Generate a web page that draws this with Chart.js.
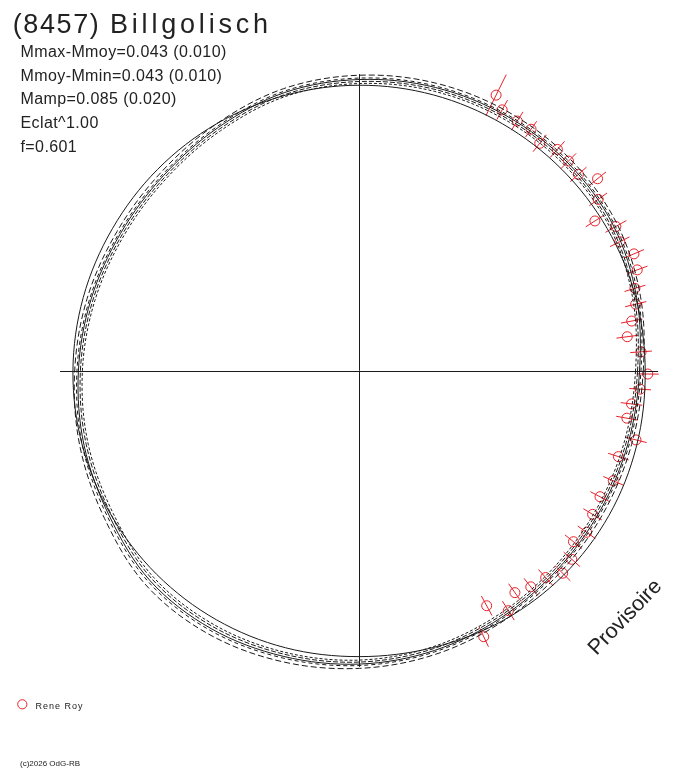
<!DOCTYPE html>
<html lang="fr">
<head>
<meta charset="UTF-8">
<title>(8457) Billgolisch</title>
<script src="https://cdn.jsdelivr.net/npm/chart.js"></script>
<style>
  html, body { margin: 0; padding: 0; background: #fff; }
  #wrap { position: relative; width: 688px; height: 768px; }
</style>
</head>
<body>
<div id="wrap"><canvas id="lc"></canvas></div>
<script>
// courbe en polaire : angle = phase (degres), rayon = 100 pour le cercle moyen
const curveAngles = [0, 15, 30, 45, 60, 75, 90, 105, 120, 135, 150, 165,
                     180, 195, 210, 225, 240, 255, 270, 285, 300, 315, 330, 345];
const circleR     = [99.9, 100.0, 100.0, 100.0, 100.0, 100.1, 100.1, 100.0, 100.0, 99.9, 99.8, 100.0,
                     100.2, 100.3, 100.3, 100.3, 100.2, 100.0, 99.7, 99.9, 100.5, 100.8, 100.7, 100.3];
const fitR        = [97.9, 100.3, 102.4, 103.1, 103.1, 102.8, 102.1, 101.0, 98.6, 96.9, 96.5, 97.2,
                     98.3, 99.7, 101.0, 103.5, 103.8, 103.1, 102.3, 101.0, 99.3, 97.9, 97.2, 97.2];
const dashOuterR  = [99.2, 101.7, 103.8, 104.6, 104.6, 104.3, 103.6, 102.4, 100.0, 98.3, 97.9, 98.6,
                     99.6, 101.2, 102.9, 105.6, 105.9, 105.0, 103.8, 102.4, 100.7, 99.3, 98.6, 98.5];
const dashMidR    = [98.4, 100.9, 102.9, 103.7, 103.6, 103.3, 102.6, 101.5, 99.1, 97.4, 97.0, 97.7,
                     98.8, 100.3, 101.7, 104.2, 104.5, 103.7, 102.8, 101.5, 99.8, 98.4, 97.7, 97.7];
const dashLowR    = [97.2, 99.5, 101.6, 102.4, 102.4, 102.1, 101.4, 100.3, 97.9, 96.2, 95.8, 96.5,
                     97.6, 98.9, 100.2, 102.6, 102.9, 102.3, 101.6, 100.3, 98.6, 97.2, 96.5, 96.5];
const dashInnerR  = [96.5, 98.9, 101.0, 101.7, 101.7, 101.4, 100.7, 99.6, 97.2, 95.5, 95.1, 95.8,
                     96.9, 98.2, 99.4, 101.8, 102.1, 101.6, 100.9, 99.6, 97.9, 96.5, 95.8, 95.8];

// mesures Rene Roy
const obsPhase = [63.7, 61.4, 57.8, 54.7, 51.7, 48.3, 45.2, 42.0, 39.0, 35.8, 32.6, 29.5, 26.5,
                  23.2, 20.1, 16.8, 13.7, 10.5, 7.4, 4.0, -0.5, -3.6, -6.8, -9.9, -13.9, -18.2,
                  -23.3, -27.5, -31.5, -35.3, -38.5, -41.5, -44.8, -47.9, -51.5, -54.9, -58.1, -61.5, -64.9];
const obsR     = [107.8, 104.2, 103.5, 103.8, 101.7, 104.0, 103.7, 103.0, 107.1, 102.9, 97.7, 103.0, 101.7,
                  104.4, 103.4, 100.6, 99.4, 96.8, 94.4, 98.7, 100.8, 98.3, 95.8, 94.9, 99.6, 95.3,
                  96.6, 94.8, 95.6, 97.3, 95.6, 99.1, 100.1, 97.1, 96.2, 94.5, 98.5, 93.2, 102.4];
const obsErr   = [8.0, 3.9, 3.8, 3.4, 3.8, 3.8, 3.8, 3.8, 3.8, 3.8, 3.8, 4.2, 3.8,
                  3.8, 3.8, 3.8, 3.8, 3.8, 3.8, 3.8, 3.8, 3.8, 3.8, 3.8, 3.8, 3.8,
                  3.8, 3.8, 3.8, 3.8, 3.8, 3.8, 3.8, 3.8, 3.8, 3.8, 3.9, 3.9, 3.9];

const axisH = [-104.7, 104.4];
const axisV = [-103.3, 104.0];

const ink = '#1a1a1a';
const red = 'rgb(232,32,40)';

function polar(r, deg) {
  const a = deg * Math.PI / 180;
  return { x: r * Math.cos(a), y: r * Math.sin(a) };
}

// boucle fermee : on ajoute un point avant et deux apres pour que la spline se raccorde
function loop(radii) {
  const n = radii.length;
  const idx = [n - 1].concat(radii.map((_, i) => i), [0, 1]);
  return idx.map(i => polar(radii[i], curveAngles[i]));
}

function curve(radii, dash) {
  const n = radii.length;
  return {
    data: loop(radii),
    showLine: true,
    borderColor: ink,
    borderWidth: 1,
    borderDash: dash,
    pointRadius: 0,
    tension: 0.34,
    segment: {
      borderColor: ctx => (ctx.p0DataIndex === 0 || ctx.p0DataIndex === n + 1) ? 'rgba(0,0,0,0)' : undefined
    }
  };
}

const errBars = [];
obsPhase.forEach((p, i) => {
  errBars.push(polar(obsR[i] - obsErr[i], p), polar(obsR[i] + obsErr[i], p), { x: null, y: null });
});
const obsPts = obsPhase.map((p, i) => polar(obsR[i], p));

// textes
const labels = {
  id: 'labels',
  afterDraw(chart) {
    const c = chart.ctx;
    c.save();
    c.fillStyle = '#222';
    c.textBaseline = 'alphabetic';
    c.textAlign = 'left';
    const font = 'Liberation Sans, Arial, sans-serif';

    c.font = '27px ' + font;
    c.letterSpacing = '1.6px';
    c.fillText('(8457)', 12.7, 32.7);
    c.letterSpacing = '3.8px';
    c.fillText('Billgolisch', 110, 32.7);

    c.font = '16px ' + font;
    c.letterSpacing = '0.4px';
    const info = ['Mmax-Mmoy=0.043 (0.010)', 'Mmoy-Mmin=0.043 (0.010)', 'Mamp=0.085 (0.020)', 'Eclat^1.00', 'f=0.601'];
    info.forEach((t, i) => c.fillText(t, 20.5, 56.8 + i * 23.7));

    c.font = '9px ' + font;
    c.letterSpacing = '1px';
    c.fillText('Rene Roy', 35.5, 709);

    c.font = '8px ' + font;
    c.letterSpacing = '0px';
    c.fillText('(c)2026 OdG-RB', 20, 765.5);

    c.strokeStyle = red;
    c.lineWidth = 1;
    c.beginPath();
    c.arc(22.3, 704.3, 4.6, 0, Math.PI * 2);
    c.stroke();

    c.translate(596.5, 656);
    c.rotate(-46 * Math.PI / 180);
    c.font = '21.5px ' + font;
    c.fillText('Provisoire', 0, 0);
    c.restore();
  }
};

new Chart(document.getElementById('lc'), {
  type: 'scatter',
  data: {
    datasets: [
      { data: [{ x: axisH[0], y: 0 }, { x: axisH[1], y: 0 }], showLine: true, borderColor: ink, borderWidth: 1, pointRadius: 0 },
      { data: [{ x: 0, y: axisV[0] }, { x: 0, y: axisV[1] }], showLine: true, borderColor: ink, borderWidth: 1, pointRadius: 0 },
      curve(circleR, []),
      curve(fitR, []),
      curve(dashOuterR, [6, 3]),
      curve(dashMidR, [4, 3]),
      curve(dashLowR, [5, 2]),
      curve(dashInnerR, [3, 2]),
      { data: errBars, showLine: true, borderColor: red, borderWidth: 1, pointRadius: 0, spanGaps: false },
      { data: obsPts, pointStyle: 'circle', pointRadius: 5, borderColor: red, borderWidth: 1, backgroundColor: 'rgba(0,0,0,0)' }
    ]
  },
  options: {
    responsive: true,
    maintainAspectRatio: false,
    animation: false,
    layout: { padding: 0, autoPadding: false },
    plugins: { legend: { display: false }, tooltip: { enabled: false } },
    scales: {
      x: { display: false, min: -125.7, max: 114.86 },
      y: { display: false, min: -138.64, max: 129.9 }
    }
  },
  plugins: [labels]
});
</script>
</body>
</html>
